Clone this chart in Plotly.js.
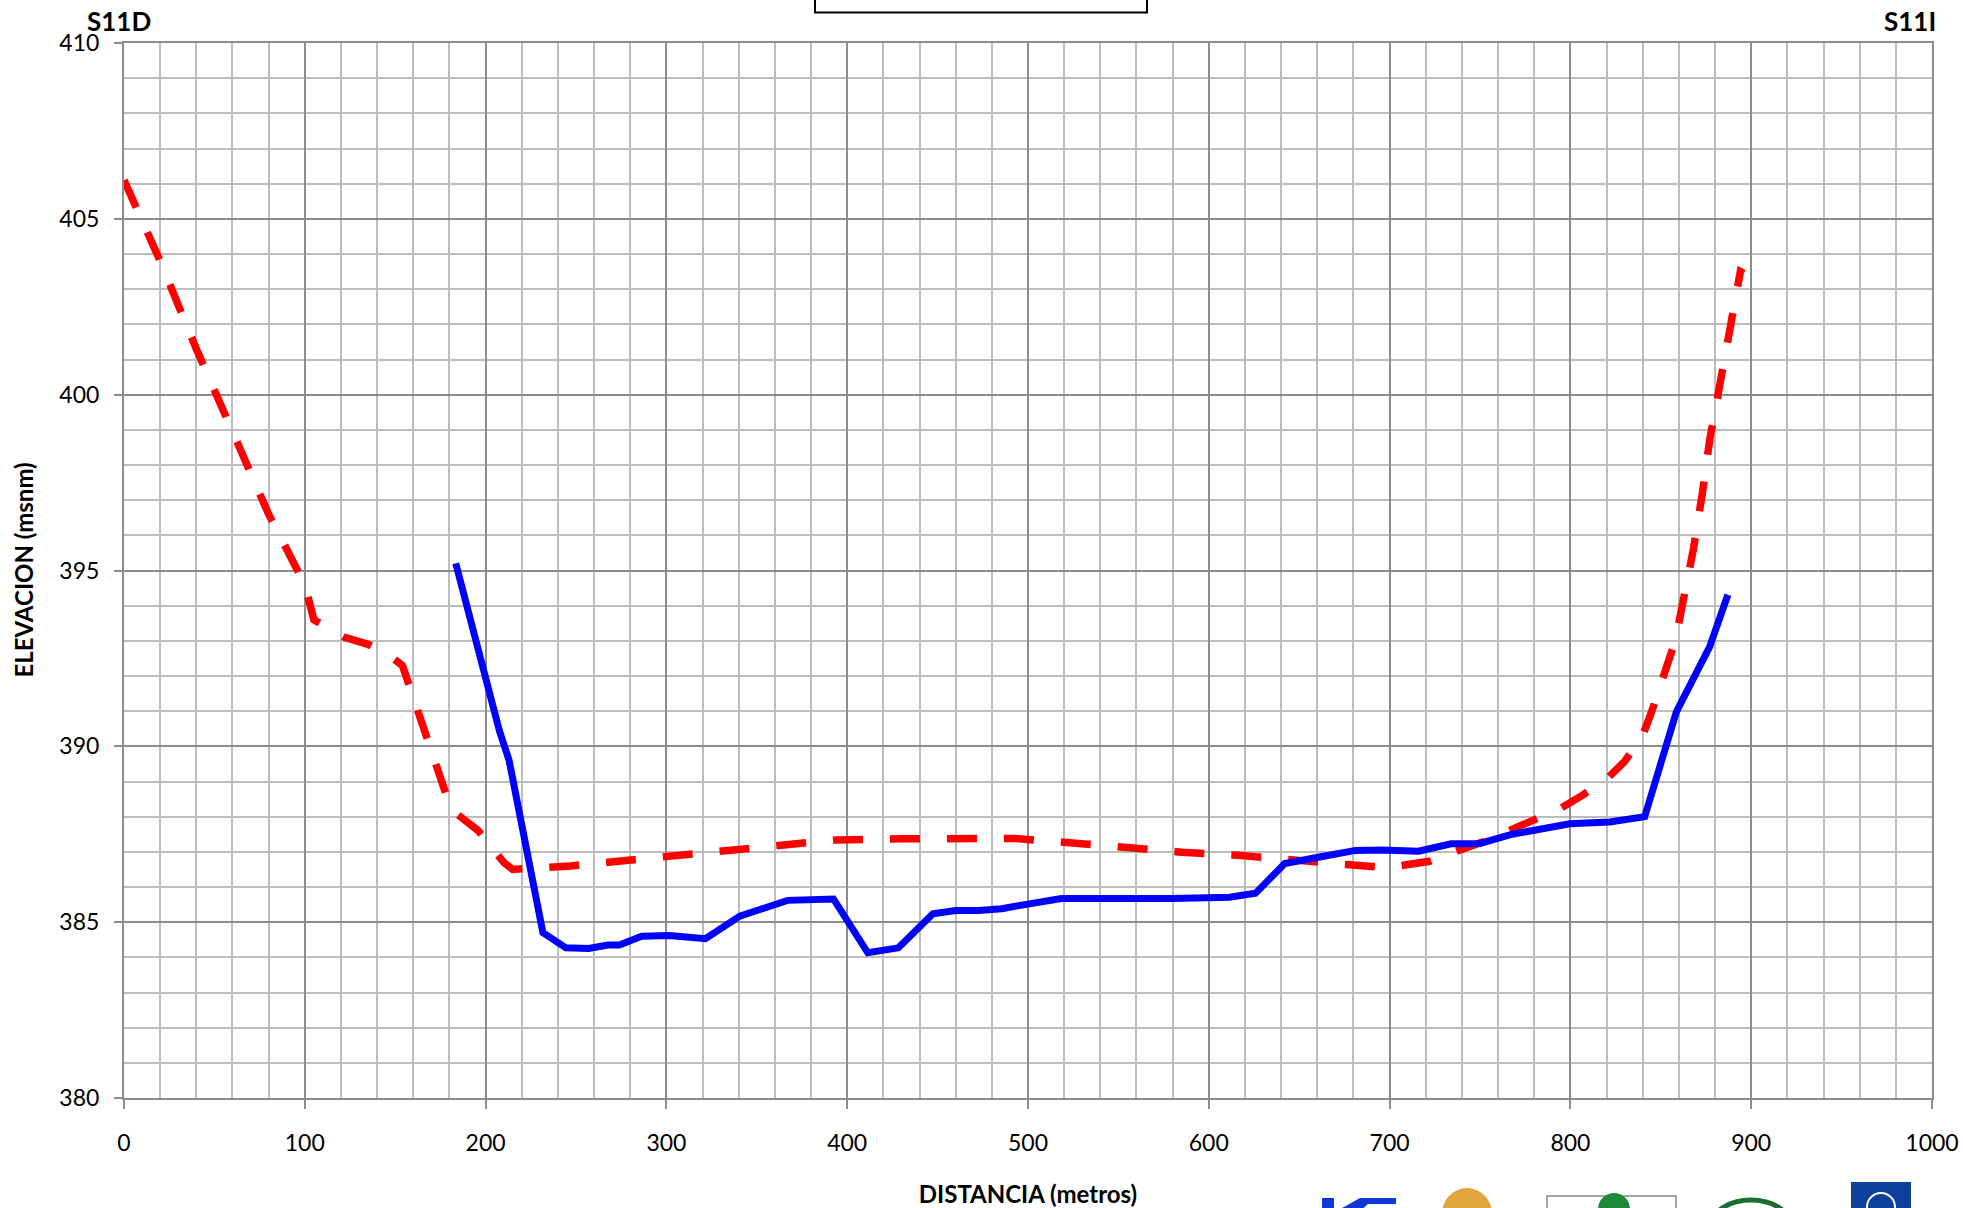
<!DOCTYPE html>
<html>
<head>
<meta charset="utf-8">
<script src="https://cdn.plot.ly/plotly-3.0.1.min.js"></script>
<style>
html,body{margin:0;padding:0;background:#fff;}
#chart{width:1963px;height:1208px;}
</style>
</head>
<body>
<div id="chart"></div>
<script>
// ---- Data ----
const distRed = [0, 20, 40, 60, 80, 100, 105, 122, 135, 149, 154, 181, 196, 210, 215, 247, 277, 308, 339, 369, 394, 430, 461, 493, 523, 555, 585, 616, 646, 676, 699, 708, 722, 737, 751, 766, 779, 794, 807, 821, 830, 840, 845, 852, 858, 863, 868, 873, 877, 882, 886, 890, 894, 896];
const elevRed = [406.1, 403.8, 401.3, 398.9, 396.6, 394.6, 393.6, 393.1, 392.9, 392.5, 392.3, 388.2, 387.6, 386.7, 386.5, 386.6, 386.75, 386.9, 387.07, 387.23, 387.34, 387.37, 387.36, 387.38, 387.26, 387.11, 386.99, 386.9, 386.75, 386.64, 386.55, 386.64, 386.73, 387.02, 387.27, 387.6, 387.87, 388.22, 388.62, 389.12, 389.57, 390.3, 391.0, 392.0, 393.0, 394.3, 395.6, 397.2, 398.7, 400.1, 401.3, 402.4, 403.5, 403.45];

const distBlue = [183.5, 201, 207.6, 213, 231.7, 244.4, 257, 267.7, 274, 286.3, 301.5, 321.6, 340.6, 367, 392.4, 411.4, 428.3, 447.4, 460, 472.7, 485.4, 494.9, 518.4, 579.7, 611.4, 625.8, 642, 664.3, 681.2, 696, 716, 734, 750, 767.9, 786.9, 799.6, 821.8, 841.1, 858.6, 877, 887.1];
const elevBlue = [395.2, 391.8, 390.45, 389.6, 384.7, 384.27, 384.25, 384.35, 384.35, 384.6, 384.62, 384.53, 385.17, 385.62, 385.66, 384.13, 384.27, 385.24, 385.33, 385.33, 385.38, 385.47, 385.67, 385.67, 385.71, 385.82, 386.67, 386.88, 387.04, 387.05, 387.02, 387.23, 387.24, 387.5, 387.71, 387.8, 387.85, 388.0, 390.98, 392.83, 394.31];

const xTickVals = [0, 100, 200, 300, 400, 500, 600, 700, 800, 900, 1000];
const yTickVals = [380, 385, 390, 395, 400, 405, 410];
const leftLabel = "S11D";
const rightLabel = "S11I";
const xTitle = "DISTANCIA (metros)";
const yTitle = "ELEVACION (msnm)";

// ---- Layout geometry ----
const W = 1963, H = 1208;
const M = {l: 124, r: 31, t: 43, b: 110};
const PW = W - M.l - M.r, PH = H - M.t - M.b;
const px = v => (v - M.l) / PW;          // pixel x -> paper
const py = v => (H - M.b - v) / PH;      // pixel y -> paper

const FONT = "Lato, 'Open Sans', sans-serif";
const MAJOR = "#8c8c8c", MINOR = "#bdbdbd";

const traces = [
  {
    x: distRed, y: elevRed, type: "scatter", mode: "lines",
    line: {color: "#ff0000", width: 7.5, dash: "30px,27px"},
    hoverinfo: "x+y", showlegend: false
  },
  {
    x: distBlue, y: elevBlue, type: "scatter", mode: "lines",
    line: {color: "#0000ff", width: 7},
    hoverinfo: "x+y", showlegend: false
  }
];

const shapes = [
  // empty title box at top (cut by page edge)
  {type: "rect", xref: "paper", yref: "paper", x0: px(815), x1: px(1147), y0: py(12.5), y1: py(-20),
   line: {color: "#000", width: 2}, fillcolor: "rgba(0,0,0,0)"},
  // logos strip (decorative, partially cut at bottom edge)
  {type: "rect", xref: "paper", yref: "paper", x0: px(1322), x1: px(1334), y0: py(1198), y1: py(1215),
   line: {width: 0}, fillcolor: "#1038d8"},
  {type: "path", xref: "paper", yref: "paper",
   path: `M ${px(1342)} ${py(1208)} L ${px(1360)} ${py(1198)} L ${px(1396)} ${py(1198)} L ${px(1396)} ${py(1204)} L ${px(1368)} ${py(1204)} L ${px(1356)} ${py(1215)} Z`,
   line: {width: 0}, fillcolor: "#1038d8"},
  {type: "circle", xref: "paper", yref: "paper", x0: px(1442), x1: px(1492), y0: py(1188), y1: py(1240),
   line: {width: 0}, fillcolor: "#e1a53d"},
  {type: "rect", xref: "paper", yref: "paper", x0: px(1547), x1: px(1676), y0: py(1196), y1: py(1230),
   line: {color: "#8a8a8a", width: 1.5}, fillcolor: "#ffffff"},
  {type: "circle", xref: "paper", yref: "paper", x0: px(1598), x1: px(1630), y0: py(1193), y1: py(1225),
   line: {width: 0}, fillcolor: "#1f8a3a"},
  {type: "circle", xref: "paper", yref: "paper", x0: px(1712), x1: px(1790), y0: py(1200), y1: py(1250),
   line: {color: "#1c6e30", width: 5}, fillcolor: "rgba(0,0,0,0)"},
  {type: "rect", xref: "paper", yref: "paper", x0: px(1851), x1: px(1911), y0: py(1182), y1: py(1230),
   line: {width: 0}, fillcolor: "#0d3f9c"},
  {type: "circle", xref: "paper", yref: "paper", x0: px(1867), x1: px(1895), y0: py(1193), y1: py(1221),
   line: {color: "#ffffff", width: 2}, fillcolor: "rgba(0,0,0,0)"}
];

const annotations = [
  {text: "<b>" + leftLabel + "</b>", xref: "paper", yref: "paper", x: px(86), y: py(21),
   xanchor: "left", yanchor: "middle", showarrow: false, borderpad: 0,
   font: {family: FONT, size: 26, color: "#000"}},
  {text: "<b>" + rightLabel + "</b>", xref: "paper", yref: "paper", x: px(1937), y: py(21),
   xanchor: "right", yanchor: "middle", showarrow: false, borderpad: 0,
   font: {family: FONT, size: 26, color: "#000"}},
  // y-axis title (placed as annotation to match the reference position)
  {text: "<b>" + yTitle + "</b>", xref: "paper", yref: "paper", x: px(23), y: 0.5,
   xanchor: "center", yanchor: "middle", textangle: -90, showarrow: false, borderpad: 0,
   font: {family: FONT, size: 24, color: "#000"}}
];

const layout = {
  width: W, height: H,
  margin: M,
  paper_bgcolor: "#ffffff", plot_bgcolor: "#ffffff",
  font: {family: FONT, color: "#000"},
  showlegend: false,
  xaxis: {
    range: [0, 1000], tickvals: xTickVals, ticks: "outside", ticklen: 9, tickwidth: 2, tickcolor: MAJOR,
    ticklabelstandoff: 14,
    showgrid: true, gridcolor: MAJOR, gridwidth: 2,
    minor: {dtick: 20, tick0: 0, showgrid: true, gridcolor: MINOR, gridwidth: 2, ticks: ""},
    showline: true, linecolor: MAJOR, linewidth: 2, mirror: true,
    zeroline: false, tickfont: {family: FONT, size: 23, color: "#000"},
    title: {text: "<b>" + xTitle + "</b>", standoff: 32, font: {family: FONT, size: 24, color: "#000"}},
    automargin: false, fixedrange: true
  },
  yaxis: {
    range: [380, 410], tickvals: yTickVals, ticks: "outside", ticklen: 8, tickwidth: 2, tickcolor: MAJOR,
    ticklabelstandoff: 10,
    showgrid: true, gridcolor: MAJOR, gridwidth: 2,
    minor: {dtick: 1, tick0: 380, showgrid: true, gridcolor: MINOR, gridwidth: 2, ticks: ""},
    showline: true, linecolor: MAJOR, linewidth: 2, mirror: true,
    zeroline: false, tickfont: {family: FONT, size: 23, color: "#000"},
    automargin: false, fixedrange: true
  },
  shapes: shapes,
  annotations: annotations
};

Plotly.newPlot("chart", traces, layout, {staticPlot: true, displayModeBar: false});
</script>
</body>
</html>
